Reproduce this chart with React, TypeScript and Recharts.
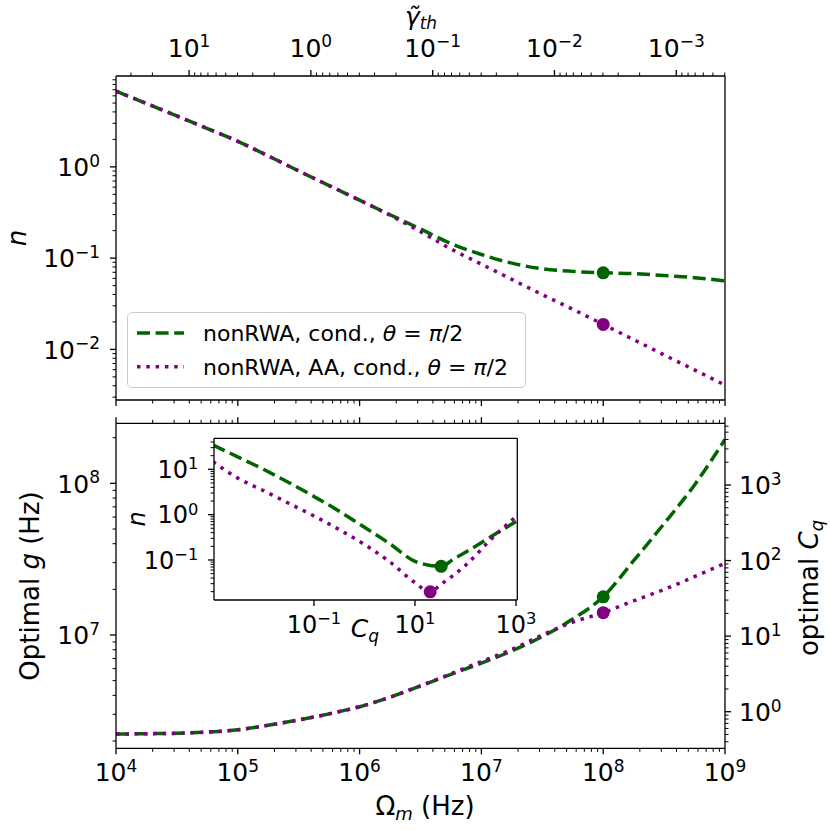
import React from 'react';
import { ComposedChart, Line, Scatter, XAxis, YAxis, Legend } from 'recharts';

const FONT = '"DejaVu Sans", "Liberation Sans", sans-serif';
const GREEN = '#006400';
const PURPLE = '#800080';
const AXIS = { stroke: '#000', strokeWidth: 1.3 };
const DASH = '13 5.6';
const DOTS = '3.5 5.8';

// --- data ---

// Omega_m (Hz), quarter-decade grid shared by both main panels
const omega = [
  1e4, 1.778e4, 3.162e4, 5.623e4, 1e5, 1.778e5, 3.162e5, 5.623e5, 1e6, 1.778e6, 3.162e6,
  5.623e6, 1e7, 1.778e7, 3.162e7, 5.623e7, 1e8, 1.778e8, 3.162e8, 5.623e8, 1e9,
];

// top panel: n
const nCond = [
  6.75, 4.95, 3.61, 2.63, 1.905, 1.318, 0.902, 0.624, 0.4315, 0.2985, 0.209, 0.1445, 0.1096,
  0.0881, 0.0764, 0.0716, 0.069, 0.0676, 0.0646, 0.061, 0.0564,
];
const nAA = [
  6.75, 4.95, 3.61, 2.63, 1.905, 1.318, 0.902, 0.624, 0.4315, 0.295, 0.195, 0.126, 0.0859,
  0.0585, 0.0398, 0.0275, 0.0188, 0.0128, 0.0087, 0.00596, 0.00406,
];

// bottom panel: optimal g (Hz)
const gCond = [
  2.223e6, 2.234e6, 2.249e6, 2.291e6, 2.371e6, 2.541e6, 2.754e6, 3.02e6, 3.365e6, 3.89e6, 4.62e6,
  5.5e6, 6.53e6, 7.85e6, 9.77e6, 1.274e7, 1.786e7, 3.09e7, 5.43e7, 9.77e7, 1.95e8,
];
const gAA = [
  2.223e6, 2.234e6, 2.249e6, 2.291e6, 2.371e6, 2.541e6, 2.754e6, 3.02e6, 3.365e6, 3.89e6, 4.62e6,
  5.55e6, 6.68e6, 8.04e6, 1.0e7, 1.216e7, 1.403e7, 1.679e7, 1.995e7, 2.427e7, 2.972e7,
];

// optimum markers at Omega_m = 1e8
const nDotCond = [{ om: 1e8, n: 0.069 }];
const nDotAA = [{ om: 1e8, n: 0.0188 }];
const gDotCond = [{ om: 1e8, g: 1.786e7 }];
const gDotAA = [{ om: 1e8, g: 1.403e7 }];

// inset: n versus C_q
const cqCond = [1e-3, 3.162e-3, 1e-2, 3.162e-2, 0.1, 0.3162, 1, 3.162, 10, 17.78, 33, 56.23, 100, 316.2, 1000];
const nInCond = [34.3, 18.6, 10.0, 5.13, 2.51, 1.19, 0.525, 0.229, 0.0933, 0.0776, 0.0726, 0.102, 0.148, 0.324, 0.708];
const cqAA = [1e-3, 3.162e-3, 1e-2, 3.162e-2, 0.1, 0.3162, 1, 3.162, 10, 20, 31.62, 100, 316.2, 1000];
const nInAA = [14.7, 6.31, 3.39, 1.78, 0.933, 0.468, 0.219, 0.0912, 0.0316, 0.0198, 0.0282, 0.0759, 0.282, 0.912];
const inDotCond = [{ c: 33, n: 0.0726 }];
const inDotAA = [{ c: 20, n: 0.0198 }];

const seriesNames = ['nonRWA, cond., ', 'nonRWA, AA, cond., '];

// axis ranges
const OM_DOMAIN: [number, number] = [1e4, 1e9];
const N_DOMAIN: [number, number] = [0.00279, 9.9];
const G_DOMAIN: [number, number] = [1.79e6, 2.49e8];
const CQ_DOMAIN: [number, number] = [0.328, 6550];
const IN_C_DOMAIN: [number, number] = [1.05e-3, 1.06e3];
const IN_N_DOMAIN: [number, number] = [0.0131, 48.3];
const GAMMA_K = 3.98e5; // gamma_th = GAMMA_K / Omega_m

const logTicks = (lo: number, hi: number) => {
  const out: number[] = [];
  for (let e = Math.floor(Math.log10(lo)); e <= Math.ceil(Math.log10(hi)); e++) {
    for (let m = 1; m <= 9; m++) {
      const v = m * Math.pow(10, e);
      if (v >= lo && v <= hi) out.push(v);
    }
  }
  return out;
};

const omTicks = logTicks(OM_DOMAIN[0], OM_DOMAIN[1]);
const nTicks = logTicks(N_DOMAIN[0], N_DOMAIN[1]);
const gTicks = logTicks(G_DOMAIN[0], G_DOMAIN[1]);
const cqTicks = logTicks(CQ_DOMAIN[0], CQ_DOMAIN[1]);
const gammaTicks = logTicks(GAMMA_K / OM_DOMAIN[1], GAMMA_K / OM_DOMAIN[0]);
const gammaTickOm = gammaTicks.map((g) => GAMMA_K / g);
const inCTicks = [0.1, 10, 1000];
const inNTicks = logTicks(IN_N_DOMAIN[0], IN_N_DOMAIN[1]);

const topRows = omega.map((om, i) => ({ om, cond: nCond[i], aa: nAA[i] }));
const bottomRows = omega.map((om, i) => ({ om, cond: gCond[i], aa: gAA[i] }));
const inRowsCond = cqCond.map((c, i) => ({ c, n: nInCond[i] }));
const inRowsAA = cqAA.map((c, i) => ({ c, n: nInAA[i] }));

// --- tick drawing (matplotlib-like log ticks) ---

const isDecade = (v: number) => Math.abs(Math.log10(v) - Math.round(Math.log10(v))) < 1e-6;
const decadeExp = (v: number) => Math.round(Math.log10(v));
const supText = (e: number) => (e < 0 ? '\u2212' + Math.abs(e) : String(e));

const PowLabel = ({ x, y, e, anchor, size }: any) => (
  <text x={x} y={y} textAnchor={anchor} fontFamily={FONT} fontSize={size} fill="#000">
    10
    <tspan dy={-0.37 * size} fontSize={size * 0.68}>
      {supText(e)}
    </tspan>
  </text>
);

type Side = 'left' | 'right' | 'top' | 'bottom';
interface TickSpec {
  side: Side;
  major?: (v: number) => boolean;
  exp?: (v: number) => number;
  size?: number;
}

const tickRenderer = (spec: TickSpec) => (props: any) => {
  const { x, y, payload } = props;
  const v = Number(payload?.value);
  const major = (spec.major ?? isDecade)(v);
  const len = major ? 6 : 3.5;
  const size = spec.size ?? 25;
  const dx = spec.side === 'left' ? -1 : spec.side === 'right' ? 1 : 0;
  const dy = spec.side === 'top' ? -1 : spec.side === 'bottom' ? 1 : 0;
  let label = null;
  if (major && spec.exp) {
    const e = spec.exp(v);
    if (spec.side === 'left')
      label = <PowLabel x={x - 6 - 0.4 * size} y={y + 0.365 * size} e={e} anchor="end" size={size} />;
    if (spec.side === 'right')
      label = <PowLabel x={x + 14} y={y + 0.365 * size} e={e} anchor="start" size={size} />;
    if (spec.side === 'bottom') label = <PowLabel x={x} y={y + 33} e={e} anchor="middle" size={size} />;
    if (spec.side === 'top') label = <PowLabel x={x} y={y - 19.3} e={e} anchor="middle" size={size} />;
  }
  return (
    <g>
      <line x1={x} y1={y} x2={x + dx * len} y2={y + dy * len} stroke="#000" strokeWidth={major ? 1.3 : 1} />
      {label}
    </g>
  );
};

const dotShape = (color: string) => (p: any) => <circle cx={p.cx} cy={p.cy} r={6.5} fill={color} />;

const axisCommon = {
  type: 'number' as const,
  scale: 'log' as const,
  allowDataOverflow: true,
  interval: 0 as const,
  tickSize: 0,
  tickMargin: 0,
  tickLine: false,
  axisLine: AXIS,
};

const LegendBox = () => {
  const rows = [
    { y: 21, stroke: GREEN, dash: DASH },
    { y: 54.7, stroke: PURPLE, dash: DOTS },
  ];
  return (
    <div
      style={{
        boxSizing: 'border-box',
        width: 399,
        height: 76,
        border: '1.3px solid #cccccc',
        borderRadius: 5,
        background: 'rgba(255,255,255,0.8)',
      }}
    >
      <svg width={397} height={74} style={{ display: 'block' }}>
        {rows.map((r, i) => (
          <g key={i}>
            <line x1={9} x2={56} y1={r.y - 1} y2={r.y - 1} stroke={r.stroke} strokeWidth={3.5} strokeDasharray={r.dash} />
            <text x={75} y={r.y + 7} fontFamily={FONT} fontSize={22} fill="#000">
              {seriesNames[i]}
              <tspan fontStyle="italic">θ</tspan>
              {' = '}
              <tspan fontStyle="italic">π</tspan>
              {'/2'}
            </text>
          </g>
        ))}
      </svg>
    </div>
  );
};

const TopPanel = () => (
  <div style={{ position: 'absolute', left: 0, top: 0 }}>
    <ComposedChart width={830} height={430} data={topRows} margin={{ top: 0, right: 0, bottom: 0, left: 0 }}>
      <XAxis xAxisId="om" dataKey="om" {...axisCommon} domain={OM_DOMAIN} orientation="bottom" height={30}
        ticks={omTicks} tick={tickRenderer({ side: 'bottom' })} />
      <XAxis xAxisId="gamma" dataKey="om" {...axisCommon} domain={OM_DOMAIN} orientation="top" height={76}
        ticks={gammaTickOm}
        tick={tickRenderer({
          side: 'top',
          major: (v) => isDecade(GAMMA_K / v),
          exp: (v) => Math.round(Math.log10(GAMMA_K / v)),
        })} />
      <YAxis yAxisId="n" {...axisCommon} domain={N_DOMAIN} width={116} ticks={nTicks}
        tick={tickRenderer({ side: 'left', exp: decadeExp })} />
      <YAxis yAxisId="frame" orientation="right" type="number" domain={[0, 1]} width={105} tick={false}
        tickLine={false} axisLine={AXIS} />
      <Line xAxisId="om" yAxisId="n" dataKey="cond" type="monotone" stroke={GREEN} strokeWidth={3.5}
        strokeDasharray={DASH} dot={false} isAnimationActive={false} />
      <Line xAxisId="om" yAxisId="n" dataKey="aa" type="monotone" stroke={PURPLE} strokeWidth={3.5}
        strokeDasharray={DOTS} dot={false} isAnimationActive={false} />
      <Scatter xAxisId="om" yAxisId="n" data={nDotCond} dataKey="n" shape={dotShape(GREEN)} isAnimationActive={false} />
      <Scatter xAxisId="om" yAxisId="n" data={nDotAA} dataKey="n" shape={dotShape(PURPLE)} isAnimationActive={false} />
      <Legend content={() => <LegendBox />} layout="horizontal" align="center" verticalAlign="middle"
        wrapperStyle={{ left: 127, top: 312, width: 399, height: 76 }} />
    </ComposedChart>
  </div>
);

const BottomPanel = () => (
  <div style={{ position: 'absolute', left: 0, top: 400 }}>
    <ComposedChart width={830} height={430} data={bottomRows} margin={{ top: 0, right: 0, bottom: 0, left: 0 }}>
      <XAxis xAxisId="om" dataKey="om" {...axisCommon} domain={OM_DOMAIN} orientation="bottom" height={81.7}
        ticks={omTicks} tick={tickRenderer({ side: 'bottom', exp: decadeExp })} />
      <XAxis xAxisId="topframe" dataKey="om" {...axisCommon} domain={OM_DOMAIN} orientation="top" height={23.3}
        ticks={omTicks} tick={tickRenderer({ side: 'top' })} />
      <YAxis yAxisId="g" {...axisCommon} domain={G_DOMAIN} width={116} ticks={gTicks}
        tick={tickRenderer({ side: 'left', exp: decadeExp })} />
      <YAxis yAxisId="cq" orientation="right" {...axisCommon} domain={CQ_DOMAIN} width={105} ticks={cqTicks}
        tick={tickRenderer({ side: 'right', exp: decadeExp })} />
      <Line xAxisId="om" yAxisId="g" dataKey="cond" type="monotone" stroke={GREEN} strokeWidth={3.5}
        strokeDasharray={DASH} dot={false} isAnimationActive={false} />
      <Line xAxisId="om" yAxisId="g" dataKey="aa" type="monotone" stroke={PURPLE} strokeWidth={3.5}
        strokeDasharray={DOTS} dot={false} isAnimationActive={false} />
      <Scatter xAxisId="om" yAxisId="g" data={gDotCond} dataKey="g" shape={dotShape(GREEN)} isAnimationActive={false} />
      <Scatter xAxisId="om" yAxisId="g" data={gDotAA} dataKey="g" shape={dotShape(PURPLE)} isAnimationActive={false} />
    </ComposedChart>
  </div>
);

const InsetPanel = () => (
  <div style={{ position: 'absolute', left: 130, top: 430 }}>
    <ComposedChart width={430} height={220} margin={{ top: 0, right: 0, bottom: 0, left: 0 }}>
      <XAxis xAxisId="c" dataKey="c" {...axisCommon} domain={IN_C_DOMAIN} orientation="bottom" height={50}
        ticks={inCTicks} tick={tickRenderer({ side: 'bottom', exp: decadeExp, size: 24 })} />
      <XAxis xAxisId="cframe" dataKey="c" type="number" domain={[0, 1]} orientation="top" height={8.3}
        tick={false} tickLine={false} axisLine={AXIS} />
      <YAxis yAxisId="n" {...axisCommon} domain={IN_N_DOMAIN} width={84} ticks={inNTicks}
        tick={tickRenderer({ side: 'left', exp: decadeExp, size: 24 })} />
      <YAxis yAxisId="nframe" orientation="right" type="number" domain={[0, 1]} width={42.7} tick={false}
        tickLine={false} axisLine={AXIS} />
      <Line xAxisId="c" yAxisId="n" data={inRowsCond} dataKey="n" type="monotone" stroke={GREEN} strokeWidth={3.5}
        strokeDasharray={DASH} dot={false} isAnimationActive={false} />
      <Line xAxisId="c" yAxisId="n" data={inRowsAA} dataKey="n" type="monotone" stroke={PURPLE} strokeWidth={3.5}
        strokeDasharray={DOTS} dot={false} isAnimationActive={false} />
      <Scatter xAxisId="c" yAxisId="n" data={inDotCond} dataKey="n" shape={dotShape(GREEN)} isAnimationActive={false} />
      <Scatter xAxisId="c" yAxisId="n" data={inDotAA} dataKey="n" shape={dotShape(PURPLE)} isAnimationActive={false} />
    </ComposedChart>
  </div>
);

const Titles = () => (
  <svg width={830} height={830} style={{ position: 'absolute', left: 0, top: 0, pointerEvents: 'none' }}
    fontFamily={FONT} fill="#000">
    <text x={421} y={25} textAnchor="middle" fontSize={25}>
      <tspan fontStyle="italic">{'\u03b3\u0303'}</tspan>
      <tspan fontStyle="italic" fontSize={17} dy={4}>th</tspan>
    </text>
    <text transform="translate(25.5,238) rotate(-90)" textAnchor="middle" fontSize={26} fontStyle="italic">n</text>
    <text transform="translate(39,586) rotate(-90)" textAnchor="middle" fontSize={26}>
      {'Optimal '}
      <tspan fontStyle="italic">g</tspan>
      {' (Hz)'}
    </text>
    <text transform="translate(818,588) rotate(-90)" textAnchor="middle" fontSize={26}>
      {'optimal '}
      <tspan fontStyle="italic">C</tspan>
      <tspan fontStyle="italic" fontSize={18} dy={5}>q</tspan>
    </text>
    <text x={425} y={815} textAnchor="middle" fontSize={26}>
      {'\u03a9'}
      <tspan fontStyle="italic" fontSize={18} dy={5}>m</tspan>
      <tspan dy={-5}>{' (Hz)'}</tspan>
    </text>
    <text transform="translate(145,519) rotate(-90)" textAnchor="middle" fontSize={24} fontStyle="italic">n</text>
    <text x={365} y={637} textAnchor="middle" fontSize={25}>
      <tspan fontStyle="italic">C</tspan>
      <tspan fontStyle="italic" fontSize={17} dy={5}>q</tspan>
    </text>
  </svg>
);

export default function App() {
  return (
    <div style={{ position: 'absolute', left: 0, top: 0, width: 830, height: 830, background: '#fff', overflow: 'hidden' }}>
      <TopPanel />
      <BottomPanel />
      <InsetPanel />
      <Titles />
    </div>
  );
}
